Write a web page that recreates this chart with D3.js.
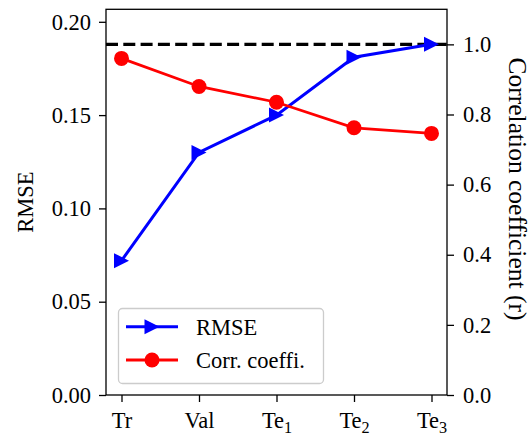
<!DOCTYPE html>
<html>
<head>
<meta charset="utf-8">
<script src="https://cdn.jsdelivr.net/npm/d3@7/dist/d3.min.js"></script>
<style>
  html, body { margin: 0; padding: 0; background: #fff; }
  svg { display: block; }
  text { font-family: "Liberation Serif", "Times New Roman", serif; fill: #000; }
</style>
</head>
<body>
<svg id="chart" width="532" height="437"></svg>
<script>
// Data sets (category labels with optional subscript)
const categories = ["Tr", "Val", "Te1", "Te2", "Te3"];
const categoryBase = ["Tr", "Val", "Te", "Te", "Te"];
const categorySub = ["", "", "1", "2", "3"];
const rmseValues = [0.072, 0.130, 0.150, 0.181, 0.188];
const corrValues = [0.96, 0.88, 0.835, 0.762, 0.746];
const rmseTicks = [0.00, 0.05, 0.10, 0.15, 0.20];
const corrTicks = [0.0, 0.2, 0.4, 0.6, 0.8, 1.0];
const referenceCorr = 1.0;

const svg = d3.select("#chart");
const plotLeft = 106, plotRight = 447, plotTop = 9.3, plotBottom = 395;
const fontSize = 22.5;

const x = d3.scalePoint().domain(categories).range([plotLeft, plotRight]).padding(0.2);
const yL = d3.scaleLinear().domain([0, 0.2067]).range([plotBottom, plotTop]);
const yR = d3.scaleLinear().domain([0, 1.1]).range([plotBottom, plotTop]);

// Reference line at r = 1
svg.append("line")
  .attr("x1", plotLeft).attr("x2", plotRight)
  .attr("y1", yR(referenceCorr)).attr("y2", yR(referenceCorr))
  .attr("stroke", "#000").attr("stroke-width", 3.2)
  .attr("stroke-dasharray", "12,5.3");

// RMSE series
const lineL = d3.line().x((d, i) => x(categories[i])).y(d => yL(d));
svg.append("path").datum(rmseValues)
  .attr("d", lineL).attr("fill", "none")
  .attr("stroke", "#0000ff").attr("stroke-width", 3);

const tri = s => `M${-s},${-s}L${s},0L${-s},${s}Z`;
svg.selectAll(".tri").data(rmseValues).enter().append("path")
  .attr("class", "tri")
  .attr("d", tri(7.5))
  .attr("transform", (d, i) => `translate(${x(categories[i])},${yL(d)})`)
  .attr("fill", "#0000ff");

// Correlation series
const lineR = d3.line().x((d, i) => x(categories[i])).y(d => yR(d));
svg.append("path").datum(corrValues)
  .attr("d", lineR).attr("fill", "none")
  .attr("stroke", "#ff0000").attr("stroke-width", 2.7);

svg.selectAll(".dot").data(corrValues).enter().append("circle")
  .attr("class", "dot")
  .attr("cx", (d, i) => x(categories[i])).attr("cy", d => yR(d))
  .attr("r", 7.5).attr("fill", "#ff0000");

// Frame
svg.append("rect")
  .attr("x", plotLeft).attr("y", plotTop)
  .attr("width", plotRight - plotLeft).attr("height", plotBottom - plotTop)
  .attr("fill", "none").attr("stroke", "#000").attr("stroke-width", 1.3);

// Axes
function styleAxis(g) {
  g.select(".domain").remove();
  g.selectAll(".tick line").attr("stroke", "#000").attr("stroke-width", 1.3);
  g.selectAll(".tick text").style("font-size", fontSize + "px")
    .style("font-family", '"Liberation Serif", "Times New Roman", serif');
}

svg.append("g").attr("transform", `translate(${plotLeft},0)`)
  .call(d3.axisLeft(yL).tickValues(rmseTicks).tickFormat(d3.format(".2f"))
    .tickSize(7).tickPadding(8))
  .call(styleAxis);

svg.append("g").attr("transform", `translate(${plotRight},0)`)
  .call(d3.axisRight(yR).tickValues(corrTicks).tickFormat(d3.format(".1f"))
    .tickSize(7).tickPadding(9))
  .call(styleAxis);

const gx = svg.append("g").attr("transform", `translate(0,${plotBottom})`)
  .call(d3.axisBottom(x).tickSize(7).tickFormat(""))
  .call(styleAxis);

// Category labels with subscripts
gx.selectAll(".tick").each(function (d) {
  const i = categories.indexOf(d);
  const t = d3.select(this).append("text")
    .attr("y", 32.5).attr("text-anchor", "middle")
    .style("font-size", fontSize + "px");
  t.append("tspan").text(categoryBase[i]);
  if (categorySub[i]) {
    t.append("tspan").attr("dy", 5).style("font-size", (fontSize * 0.72) + "px")
      .text(categorySub[i]);
  }
});

// Axis titles
svg.append("text")
  .attr("transform", `translate(33,${(plotTop + plotBottom) / 2}) rotate(-90)`)
  .attr("text-anchor", "middle")
  .style("font-size", fontSize + "px")
  .text("RMSE");

svg.append("text")
  .attr("transform", `translate(508.5,189) rotate(90)`)
  .attr("text-anchor", "middle")
  .style("font-size", "25.5px")
  .text("Correlation coefficient (r)");

// Legend
const lg = svg.append("g");
lg.append("rect")
  .attr("x", 118.5).attr("y", 308.5).attr("width", 205).attr("height", 75)
  .attr("rx", 4).attr("fill", "#fff").attr("fill-opacity", 0.8)
  .attr("stroke", "#cccccc").attr("stroke-width", 1.3);

const legendItems = [
  { label: "RMSE", color: "#0000ff", kind: "tri", y: 326.7 },
  { label: "Corr. coeffi.", color: "#ff0000", kind: "dot", y: 360 }
];
legendItems.forEach(item => {
  lg.append("line").attr("x1", 126).attr("x2", 178)
    .attr("y1", item.y).attr("y2", item.y)
    .attr("stroke", item.color).attr("stroke-width", 3);
  if (item.kind === "tri") {
    lg.append("path").attr("d", tri(7.5))
      .attr("transform", `translate(152,${item.y})`).attr("fill", item.color);
  } else {
    lg.append("circle").attr("cx", 152).attr("cy", item.y).attr("r", 7.5)
      .attr("fill", item.color);
  }
  lg.append("text").attr("x", 196).attr("y", item.y + 8)
    .style("font-size", fontSize + "px").text(item.label);
});
</script>
</body>
</html>
